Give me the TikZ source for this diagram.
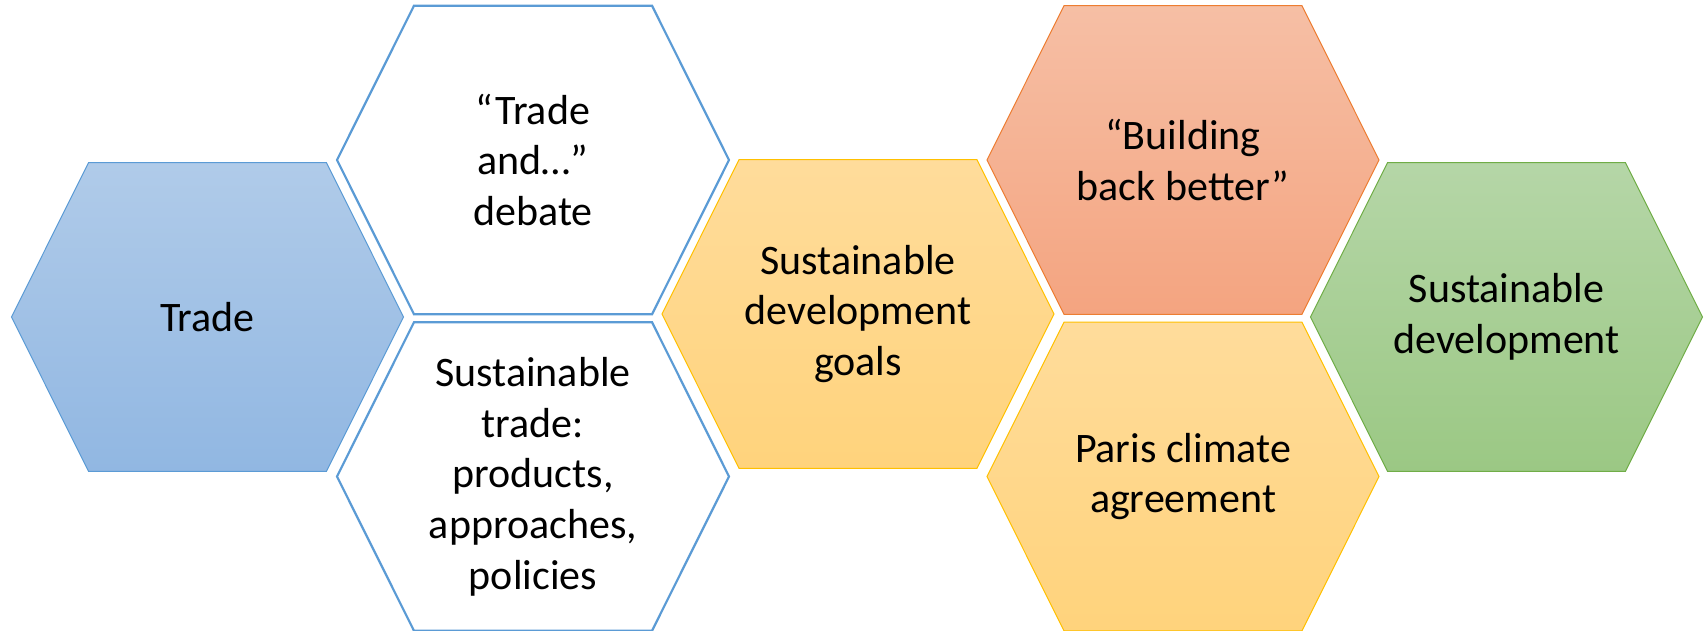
\documentclass[tikz,border=0pt]{standalone}
\usepackage{fontspec}
\setmainfont{Carlito}

\definecolor{blueline}{HTML}{5B9BD5}
\definecolor{bluetop}{HTML}{B0CBE9}
\definecolor{bluebot}{HTML}{91B7E2}
\definecolor{goldline}{HTML}{FFC000}
\definecolor{goldtop}{HTML}{FFDC9B}
\definecolor{goldbot}{HTML}{FFD37C}
\definecolor{orangeline}{HTML}{ED7D31}
\definecolor{orangetop}{HTML}{F6BFA5}
\definecolor{orangebot}{HTML}{F4A480}
\definecolor{greenline}{HTML}{70AD47}
\definecolor{greentop}{HTML}{B5D6A7}
\definecolor{greenbot}{HTML}{9BC884}

\tikzset{
  % one hexagon cell: #1 = fill/line style, #2 = text
  pics/hexcell/.style 2 args={code={
    \path [#1] (-196,0) -- (-119,-154.3) -- (119,-154.3) -- (196,0)
               -- (119,154.3) -- (-119,154.3) -- cycle;
    \node (-text) [cell text] {#2};
  }}
}

\begin{document}
\begin{tikzpicture}[x=1pt,y=-1pt
  , cell text/.style={ align=center
                     , font=\fontsize{42}{50.7}\selectfont
                     , inner sep=0pt
                     }
  , bluecell/.style={draw=blueline, line width=1pt, top color=bluetop, bottom color=bluebot}
  , whitecell/.style={draw=blueline, line width=2.2pt, fill=white}
  , goldcell/.style={draw=goldline, line width=1pt, top color=goldtop, bottom color=goldbot}
  , orangecell/.style={draw=orangeline, line width=1pt, top color=orangetop, bottom color=orangebot}
  , greencell/.style={draw=greenline, line width=1pt, top color=greentop, bottom color=greenbot}
  ]

  \useasboundingbox (0,0) rectangle (1708,631);

  \pic (trade) at (207.5,317) {hexcell={bluecell}{Trade}};
  \pic (debate) at (533,160) {hexcell={whitecell}{“Trade\\and…”\\debate}};
  \pic (sustrade) at (533,476.5) {hexcell={whitecell}{Sustainable\\trade:\\products,\\approaches,\\policies}};
  \pic (sdg) at (858,314) {hexcell={goldcell}{Sustainable\\development\\goals}};
  \pic (rebuild) at (1183,160) {hexcell={orangecell}{“Building\\back better”}};
  \pic (paris) at (1183,476.5) {hexcell={goldcell}{Paris climate\\agreement}};
  \pic (susdev) at (1506.5,317) {hexcell={greencell}{Sustainable\\development}};

\end{tikzpicture}
\end{document}
